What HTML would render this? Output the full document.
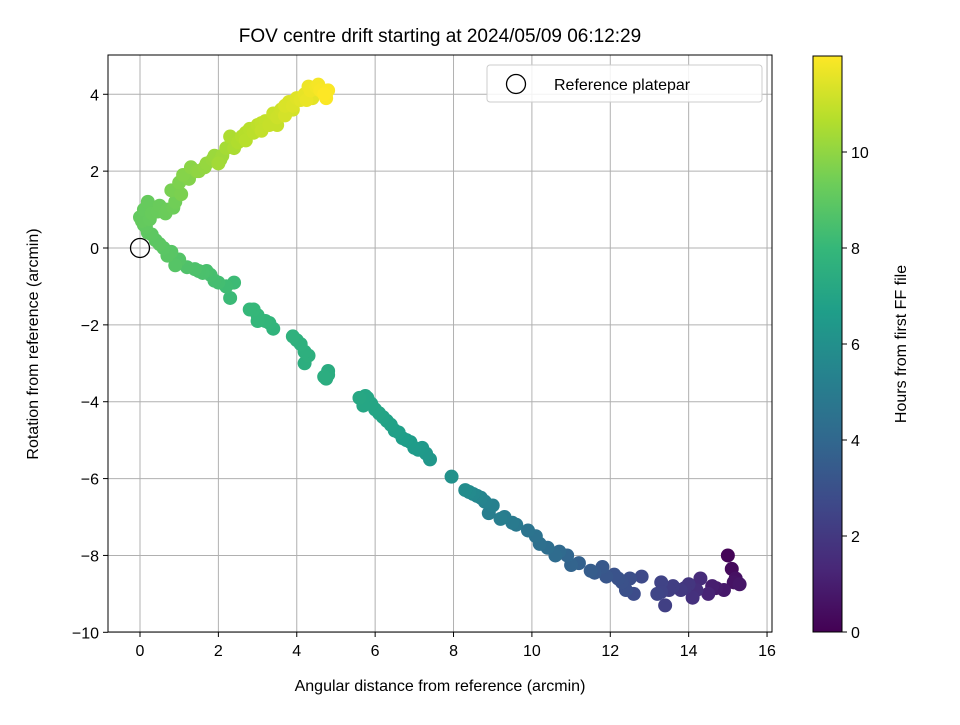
<!DOCTYPE html>
<html><head><meta charset="utf-8"><style>
html,body{margin:0;padding:0;background:#fff;}
svg text{font-family:"Liberation Sans","DejaVu Sans",sans-serif;fill:#000;}
</style></head><body>
<svg id="chart" width="960" height="720" xmlns="http://www.w3.org/2000/svg">
<rect width="960" height="720" fill="#fff"/>
<text x="440" y="42" font-size="19" text-anchor="middle">FOV centre drift starting at 2024/05/09 06:12:29</text>
<g id="grid"></g>
<g id="points"></g>
<rect x="108" y="55" width="664" height="577" fill="none" stroke="#000" stroke-width="1"/>
<g id="ticks"></g>
<text x="440" y="691" font-size="16" text-anchor="middle">Angular distance from reference (arcmin)</text>
<text transform="translate(38,344) rotate(-90)" font-size="16" text-anchor="middle">Rotation from reference (arcmin)</text>
<g>
<rect x="487" y="65" width="275" height="37" rx="3" fill="#fff" fill-opacity="0.85" stroke="#ccc"/>
<circle cx="516" cy="84" r="9.5" fill="none" stroke="#000" stroke-width="1.3"/>
<text x="554" y="90" font-size="16">Reference platepar</text>
</g>
<defs><linearGradient id="vir" x1="0" y1="1" x2="0" y2="0"></linearGradient></defs>
<rect x="813" y="56" width="29" height="576" fill="url(#vir)" stroke="#000" stroke-width="1"/>
<g id="cbticks"></g>
<text transform="translate(906,344) rotate(-90)" font-size="16" text-anchor="middle">Hours from first FF file</text>
</svg>
<script>
const xTicks=[0,2,4,6,8,10,12,14,16];
const yTicks=[4,2,0,-2,-4,-6,-8,-10];
const cbTicks=[0,2,4,6,8,10];
const xs=[15,15.1,15.2,15.3,15.15,14.7,14.5,14.3,14.1,14.0,13.8,13.6,13.4,13.3,13.2,12.6,12.5,12.3,12.1,11.8,11.5,11.2,10.9,10.7,10.4,10.1,9.9,9.6,9.3,9.0,8.9,8.7,8.5,8.3,7.95,7.4,7.2,7.0,6.8,6.6,6.4,6.2,6.0,5.8,5.6,5.7,4.75,4.8,4.2,4.2,4.0,3.9,3.4,3.2,2.9,3.0,2.3,2.2,2.4,2.0,1.8,1.7,1.5,1.2,1.0,0.8,0.6,0.4,0.2,0.1,0.0,0.1,0.3,0.5,0.2,0.7,0.9,0.8,1.0,1.1,1.3,1.5,1.7,1.9,2.1,2.2,2.4,2.3,2.6,2.8,3.0,3.2,3.4,3.6,3.8,4.0,4.2,4.3,4.5,4.6,4.7,4.4,3.9,3.5,
14.9,14.6,14.2,13.9,13.5,13.3,12.8,12.4,12.2,11.9,11.6,11.0,10.6,10.2,9.5,9.2,8.8,8.6,8.4,7.3,7.1,6.9,6.7,6.5,6.3,6.1,5.9,5.75,4.8,4.7,4.3,4.1,3.3,3.0,2.8,2.2,1.9,1.6,1.4,0.9,0.7,0.5,0.3,0.15,0.05,0.25,0.45,0.65,0.85,1.05,1.25,1.45,1.65,1.85,2.05,2.5,2.7,2.9,3.1,3.3,3.5,3.7,3.9,4.1,4.35,4.55,4.8,4.75,4.25,3.7,3.1,2.7,2.0];
const ys=[-8.0,-8.35,-8.6,-8.75,-8.7,-8.85,-9.0,-8.6,-9.1,-8.75,-8.9,-8.8,-9.3,-8.7,-9.0,-9.0,-8.6,-8.7,-8.5,-8.3,-8.4,-8.2,-8.0,-7.9,-7.8,-7.5,-7.35,-7.2,-7.0,-6.7,-6.9,-6.5,-6.4,-6.3,-5.95,-5.5,-5.2,-5.2,-5.0,-4.8,-4.6,-4.4,-4.2,-3.9,-3.9,-4.1,-3.4,-3.2,-3.0,-2.7,-2.4,-2.3,-2.1,-1.9,-1.6,-1.9,-1.3,-1.0,-0.9,-0.9,-0.7,-0.6,-0.6,-0.5,-0.3,-0.1,0.0,0.2,0.4,0.6,0.8,1.0,0.9,1.1,1.2,1.0,1.2,1.5,1.7,1.9,2.1,2.0,2.2,2.4,2.4,2.6,2.6,2.9,2.9,3.1,3.2,3.3,3.5,3.6,3.8,3.9,4.0,4.2,4.2,4.1,4.0,3.9,3.6,3.2,
-8.9,-8.8,-8.9,-8.85,-8.9,-8.95,-8.55,-8.9,-8.6,-8.55,-8.45,-8.25,-8.0,-7.7,-7.15,-7.05,-6.6,-6.45,-6.35,-5.35,-5.25,-5.05,-4.95,-4.75,-4.5,-4.3,-4.05,-3.85,-3.3,-3.35,-2.8,-2.5,-1.95,-1.75,-1.6,-1.0,-0.85,-0.65,-0.55,-0.45,-0.2,0.1,0.35,0.55,0.7,0.75,0.95,0.9,1.05,1.4,1.8,2.0,2.1,2.3,2.3,2.75,3.0,3.0,3.25,3.2,3.4,3.45,3.7,3.85,4.1,4.25,4.1,3.9,3.85,3.7,3.05,2.8,2.2];
const hours=[0.1,0.3,0.5,0.7,0.6,0.9,1.2,1.5,1.7,1.9,2.0,2.2,2.3,2.4,2.5,2.8,2.9,3.0,3.1,3.3,3.5,3.7,3.9,4.1,4.3,4.5,4.6,4.8,5.0,5.2,5.1,5.4,5.6,5.8,6.0,6.3,6.4,6.5,6.6,6.7,6.8,6.9,7.0,7.05,7.1,7.08,7.4,7.35,7.5,7.55,7.6,7.65,7.75,7.85,7.95,7.9,8.1,8.2,8.15,8.3,8.4,8.45,8.5,8.6,8.7,8.8,8.85,8.9,8.95,9.0,9.05,9.1,9.15,9.2,9.12,9.25,9.35,9.5,9.6,9.75,9.85,9.95,10.05,10.15,10.25,10.35,10.45,10.5,10.6,10.7,10.8,10.9,11.0,11.1,11.3,11.4,11.55,11.65,11.75,11.85,11.95,11.5,11.2,10.95,
0.8,1.0,1.6,1.9,2.2,2.4,2.7,2.95,3.05,3.2,3.4,3.8,4.2,4.4,4.9,5.1,5.3,5.5,5.7,6.35,6.45,6.55,6.65,6.75,6.85,6.95,7.02,7.07,7.38,7.42,7.52,7.58,7.8,7.9,7.95,8.2,8.35,8.48,8.55,8.75,8.82,8.88,8.92,8.98,9.08,9.1,9.18,9.22,9.3,9.55,9.7,9.9,10.0,10.1,10.2,10.55,10.65,10.75,10.85,10.95,11.05,11.2,11.35,11.45,11.7,11.8,11.9,11.9,11.6,11.3,10.9,10.7,10.3];
const X=v=>140+v*39.19, Y=v=>248-v*38.43, CB=v=>632-v*48;
const VIR=[[68,1,84],[72,40,120],[62,73,137],[49,104,142],[38,130,142],[31,158,137],[53,183,121],[109,205,89],[180,222,44],[253,231,37]];
function vir(t){t=Math.max(0,Math.min(1,t))*9;const i=Math.min(8,Math.floor(t)),f=t-i,a=VIR[i],b=VIR[i+1];return `rgb(${a.map((c,k)=>Math.round(c+(b[k]-c)*f)).join(',')})`;}
const NS='http://www.w3.org/2000/svg';
function mk(tag,attrs,parent){const e=document.createElementNS(NS,tag);for(const k in attrs)e.setAttribute(k,attrs[k]);parent.appendChild(e);return e;}
const grid=document.getElementById('grid'),ticks=document.getElementById('ticks');
xTicks.forEach(v=>{const x=X(v);
 const g=mk('line',{x1:x,x2:x,y1:55,y2:632,stroke:'#b0b0b0','stroke-width':1},grid);
 
 
 mk('line',{x1:x,x2:x,y1:632,y2:637,stroke:'#000'},ticks);
 const t=mk('text',{x:x,y:656,'font-size':16,'text-anchor':'middle'},ticks);t.textContent=v;
 
 });
yTicks.forEach(v=>{const y=Y(v);
 const g=mk('line',{x1:108,x2:772,y1:y,y2:y,stroke:'#b0b0b0','stroke-width':1},grid);
 
 
 mk('line',{x1:103,x2:108,y1:y,y2:y,stroke:'#000'},ticks);
 const t=mk('text',{x:99,y:y+6,'font-size':16,'text-anchor':'end'},ticks);t.textContent=(v<0?'\u2212'+(-v):v);
 
 });
const pts=document.getElementById('points');
const order=hours.map((h,i)=>i).sort((a,b)=>hours[a]-hours[b]);
order.forEach(i=>{const c=mk('circle',{cx:X(xs[i]),cy:Y(ys[i]),r:7,fill:vir(hours[i]/11.95)},pts);
 
 });
const ref=mk('circle',{cx:X(0),cy:Y(0),r:9.5,fill:'none',stroke:'#000','stroke-width':1.3},pts);


const grad=document.getElementById('vir');
VIR.forEach((c,i)=>mk('stop',{offset:(i/9),'stop-color':`rgb(${c.join(',')})`},grad));
const cbt=document.getElementById('cbticks');
cbTicks.forEach(v=>{const y=CB(v);
 mk('line',{x1:842,x2:847,y1:y,y2:y,stroke:'#000'},cbt);
 const t=mk('text',{x:851,y:y+6,'font-size':16},cbt);t.textContent=v;
 
 });
</script>
</body></html>
